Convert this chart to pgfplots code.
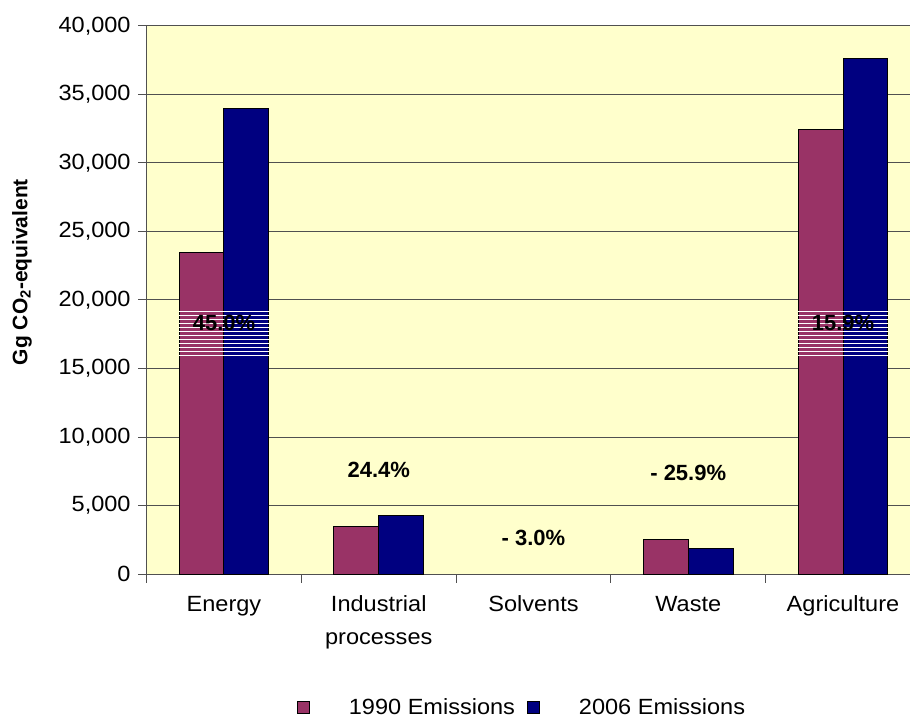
\documentclass[border=0pt]{standalone}
\usepackage{fontspec}
\setmainfont{Liberation Sans}[FakeStretch=1.07]
\newfontfamily\plainfont{Liberation Sans}
\usepackage{pgfplots}
\pgfplotsset{compat=1.18}
\usetikzlibrary{patterns.meta}
\definecolor{cA}{HTML}{993366}
\definecolor{cB}{HTML}{000080}
\definecolor{plotbg}{HTML}{FFFFCC}
\definecolor{gridc}{HTML}{505050}
\pgfplotstableread{
x v1990 v2006
0 23500 34000
1 3450 4300
3 2550 1890
4 32450 37600
}\emis
\begin{document}
\begin{tikzpicture}
\begin{axis}[
  at={(0,0)}, anchor=south west,
  scale only axis, width=763.4bp, height=548bp,
  xmin=-0.5, xmax=4.433, ymin=0, ymax=40000,
  axis background/.style={fill=plotbg},
  axis x line*=bottom, axis y line*=left,
  axis line style={draw=gridc, line width=1bp},
  ytick={0,5000,...,40000},
  scaled y ticks=false,
  /pgf/number format/.cd, fixed, 1000 sep={,}, assume math mode=true, /pgfplots/.cd,
  xtick={0,1,2,3,4},
  xticklabels={Energy,{Industrial\\processes},Solvents,Waste,Agriculture},
  minor xtick={-0.5,0.5,1.5,2.5,3.5},
  tick align=outside,
  major tick length=8.5bp, minor tick length=8.5bp,
  major x tick style={draw=none},
  tick style={draw=gridc, line width=1bp},
  every tick label/.append style={font=\fontsize{22bp}{33bp}\selectfont, text=black},
  xticklabel style={align=center, yshift=-10bp},
  yticklabel style={xshift=-4bp},
  ymajorgrids, major grid style={draw=gridc, line width=1bp},
  ylabel={\plainfont\bfseries Gg CO\textsubscript{2}-equivalent},
  ylabel style={at={(axis description cs:-0.1632,0.551)}, anchor=center, font=\fontsize{21bp}{25bp}\selectfont},
  legend style={at={(0.4918,-0.2427)}, anchor=center, draw=none, fill=none,
    font=\fontsize{22bp}{25bp}\selectfont, legend columns=2,
    /tikz/every even column/.append style={column sep=10bp}},
  legend cell align=left,
  clip=true,
]
\addplot[ybar, bar width=0.29, bar shift=-0.145, fill=cA, draw=black, line width=1bp,
  legend image code/.code={\draw[fill=cA,draw=black,line width=0.8bp] (0bp,-6bp) rectangle (12bp,6bp); \path (49bp,0bp);}]
  table[x=x,y=v1990]{\emis};
\addlegendentry{1990 Emissions}
\addplot[ybar, bar width=0.29, bar shift=0.145, fill=cB, draw=black, line width=1bp,
  legend image code/.code={\draw[fill=cB,draw=black,line width=0.8bp] (0bp,-6bp) rectangle (12bp,6bp); \path (49bp,0bp);}]
  table[x=x,y=v2006]{\emis};
\addlegendentry{2006 Emissions}
\fill[pattern={Lines[angle=0,distance=4bp,line width=0.8bp]}, pattern color=white, fill opacity=0.55]
  (axis cs:-0.29,15840) rectangle (axis cs:0.294,19200);
\fill[pattern={Lines[angle=0,distance=4bp,line width=0.8bp]}, pattern color=white, fill opacity=0.55]
  (axis cs:3.71,15840) rectangle (axis cs:4.294,19200);
\begin{scope}[every node/.style={font=\plainfont\bfseries\fontsize{22bp}{26bp}\selectfont, text=black}]
\node at (axis cs:0,18300) {45.0\%};
\node at (axis cs:4,18300) {15.9\%};
\node at (axis cs:1,7590) {24.4\%};
\node at (axis cs:3,7370) {- 25.9\%};
\node at (axis cs:2,2630) {- 3.0\%};
\end{scope}
\end{axis}
\pgfresetboundingbox
\path (-146.6bp,-145bp) rectangle (763.4bp,574bp);
\end{tikzpicture}
\end{document}
